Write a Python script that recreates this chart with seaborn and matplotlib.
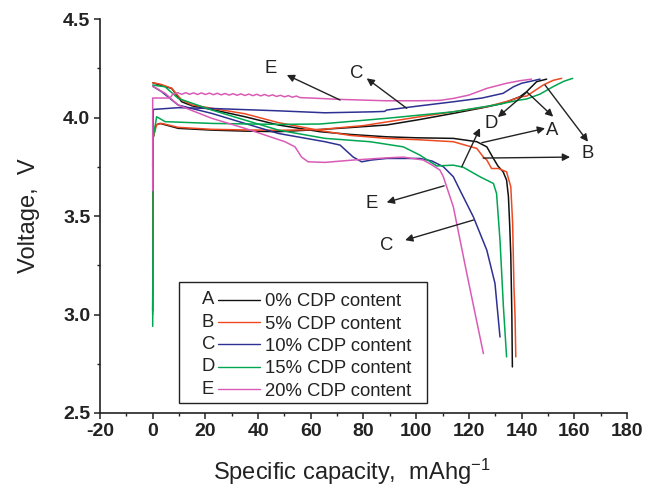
import os
import numpy as np
import pandas as pd
import matplotlib
matplotlib.use("Agg")
import matplotlib.pyplot as plt
import matplotlib.text as mtext
import matplotlib.transforms as mtransforms
from matplotlib.lines import Line2D
from matplotlib.patches import Rectangle
from matplotlib.legend_handler import HandlerBase
from matplotlib.ticker import MultipleLocator
from matplotlib import font_manager
import seaborn as sns

# ---------------- data ----------------
labels = ["A", "B", "C", "D", "E"]
legend_texts = ["0% CDP content", "5% CDP content", "10% CDP content",
                "15% CDP content", "20% CDP content"]
colors = ["#111111", "#EE4A22", "#2E3192", "#00A651", "#DA5BB5"]

# A: 0% CDP
a_chg_x = [0, 0.2, 1.2, 2.8, 9.7, 22.4, 35, 47.7, 63.5, 75, 88.8, 101, 114.1, 125, 133, 139.4, 141.9, 145.7, 149.5]
a_chg_v = [3.02, 3.90, 3.963, 3.971, 3.946, 3.937, 3.932, 3.929, 3.94, 3.95, 3.963, 3.99, 4.022, 4.05, 4.073, 4.107, 4.132, 4.183, 4.196]
a_dis_x = [0, 3, 7.2, 11, 15, 22.4, 35, 47.7, 63.5, 75, 88.8, 100, 114.1, 123, 126.8, 129, 131, 133, 134.3, 135, 135.5, 135.9, 136.3, 136.5]
a_dis_v = [4.178, 4.165, 4.149, 4.081, 4.06, 4.042, 4.005, 3.963, 3.929, 3.915, 3.903, 3.898, 3.895, 3.878, 3.852, 3.80, 3.755, 3.725, 3.683, 3.60, 3.45, 3.30, 3.00, 2.734]

# B: 5% CDP
b_chg_x = [0, 0.2, 1.5, 3.5, 9.7, 22.4, 35, 47.7, 63.5, 80, 101.4, 114, 126.8, 135, 139.4, 141.9, 148.2, 152, 155.2]
b_chg_v = [3.00, 3.90, 3.965, 3.971, 3.951, 3.941, 3.938, 3.936, 3.94, 3.96, 4.005, 4.03, 4.056, 4.085, 4.105, 4.11, 4.166, 4.19, 4.20]
b_dis_x = [0, 3, 7.2, 11, 15, 22.4, 35, 47.7, 63.5, 75, 88.8, 101, 114.1, 123, 125.5, 126.8, 128.6, 131.2, 134.3, 135.9, 136.6, 137.1, 137.5, 137.8]
b_dis_v = [4.178, 4.17, 4.15, 4.09, 4.065, 4.048, 4.02, 3.975, 3.935, 3.91, 3.895, 3.888, 3.878, 3.844, 3.80, 3.785, 3.742, 3.742, 3.725, 3.649, 3.463, 3.14, 3.00, 2.785]

# C: 10% CDP
c_chg_x = [0, 0.2, 9.7, 22.4, 47.7, 65.4, 83.6, 88, 88.8, 100, 114.1, 125, 133, 136.9, 140, 144.4, 147]
c_chg_v = [3.75, 4.042, 4.051, 4.047, 4.035, 4.025, 4.030, 4.032, 4.039, 4.058, 4.081, 4.10, 4.124, 4.157, 4.175, 4.188, 4.196]
c_dis_x = [0, 3.4, 9.7, 22.4, 35, 47.7, 65.4, 71.1, 76.1, 79.3, 83, 88.8, 101.4, 106, 110.3, 114.1, 116.6, 121.7, 126.8, 129.9, 131.8]
c_dis_v = [4.16, 4.132, 4.064, 4.022, 3.971, 3.92, 3.878, 3.861, 3.80, 3.776, 3.785, 3.793, 3.793, 3.78, 3.751, 3.70, 3.632, 3.496, 3.327, 3.158, 2.886]

# D: 15% CDP
d_chg_x = [0, 0.2, 1.5, 4.7, 22.4, 47.7, 63.5, 88.8, 114.1, 130, 139.4, 141.9, 147, 152, 156, 159.4]
d_chg_v = [2.94, 3.90, 4.005, 3.98, 3.971, 3.966, 3.968, 3.997, 4.03, 4.065, 4.09, 4.095, 4.12, 4.158, 4.185, 4.20]
d_dis_x = [0, 4.7, 9.7, 22.4, 35, 47.7, 65.4, 82.5, 95.1, 101.4, 107.8, 114.1, 117.9, 124.2, 129.3, 130.5, 131.8, 133.1, 134.3]
d_dis_v = [4.166, 4.157, 4.098, 4.039, 3.988, 3.937, 3.895, 3.878, 3.852, 3.81, 3.755, 3.759, 3.748, 3.70, 3.666, 3.615, 3.378, 3.039, 2.785]

# E: 20% CDP
e_chg_x = [0, 0, 6.6, 7.6, 9.5, 11, 12.5, 14, 15.5, 17, 18.5, 20, 21.5, 23, 24.5, 26, 27.5, 29, 30.5, 32,
           33.5, 35, 36.5, 38, 39.5, 41, 42.5, 44, 45.5, 47, 48.5, 50, 51.5, 53, 54.5, 56, 60, 71.1, 88.8,
           100, 109, 114.1, 120, 126.8, 134.3, 139.4, 143.8]
e_chg_v = [3.63, 4.10, 4.10, 4.12, 4.127, 4.119, 4.127, 4.119, 4.126, 4.118, 4.126, 4.118, 4.125, 4.117, 4.124, 4.116, 4.123, 4.115, 4.122, 4.114,
           4.121, 4.113, 4.12, 4.112, 4.119, 4.111, 4.118, 4.11, 4.116, 4.108, 4.114, 4.106, 4.112, 4.104, 4.11, 4.102, 4.10, 4.093, 4.086,
           4.086, 4.088, 4.098, 4.115, 4.149, 4.175, 4.188, 4.196]
e_dis_x = [0, 4.7, 9.7, 22.4, 35, 50.2, 54, 56.5, 59, 65.4, 76.1, 88.8, 95.1, 102.7, 106, 109, 110.3, 114.1, 119.2, 125.5]
e_dis_v = [4.16, 4.124, 4.064, 3.997, 3.946, 3.878, 3.852, 3.80, 3.776, 3.773, 3.785, 3.796, 3.80, 3.785, 3.76, 3.734, 3.70, 3.547, 3.209, 2.802]

curves = {
    "A": [(a_chg_x, a_chg_v), (a_dis_x, a_dis_v)],
    "B": [(b_chg_x, b_chg_v), (b_dis_x, b_dis_v)],
    "C": [(c_chg_x, c_chg_v), (c_dis_x, c_dis_v)],
    "D": [(d_chg_x, d_chg_v), (d_dis_x, d_dis_v)],
    "E": [(e_chg_x, e_chg_v), (e_dis_x, e_dis_v)],
}

# annotation labels: (text, label x, label y, [(tail x, tail y, head x, head y), ...])
annotations = [
    ("E", 44.9, 4.252, [(71.1, 4.090, 50.9, 4.217)]),
    ("C", 77.5, 4.227, [(96.4, 4.048, 81.2, 4.200)]),
    ("D", 128.4, 3.973, [(142.0, 4.130, 131.0, 4.003), (117.3, 3.751, 124.2, 3.947)]),
    ("A", 151.5, 3.937, [(141.9, 4.132, 152.0, 4.005), (124.9, 3.873, 148.9, 3.946)]),
    ("B", 165.2, 3.820, [(148.9, 4.166, 165.2, 3.878), (125.4, 3.795, 158.4, 3.800)]),
    ("E", 83.2, 3.566, [(110.6, 3.654, 88.8, 3.570)]),
    ("C", 88.8, 3.350, [(121.7, 3.480, 95.8, 3.378)]),
]

x_ticks = [-20, 0, 20, 40, 60, 80, 100, 120, 140, 160, 180]
y_ticks = [2.5, 3.0, 3.5, 4.0, 4.5]

# ---------------- plot ----------------
sns.set_theme(style="ticks")
plt.rcParams["font.family"] = ["Liberation Sans", "DejaVu Sans"]
plt.rcParams["mathtext.default"] = "regular"
plt.rcParams["axes.unicode_minus"] = False

# find a family that really has a bold face for the tick labels
bold_path = None
for fam in ["Liberation Sans", "Arimo", "Roboto", "Noto Sans", "Open Sans", "Lato", "DejaVu Sans"]:
    try:
        p = font_manager.findfont(font_manager.FontProperties(family=fam, weight="bold"),
                                  fallback_to_default=False)
    except Exception:
        continue
    base = os.path.basename(p).lower()
    if "bold" in base or "-bd" in base or "black" in base:
        bold_path = p
        break
if bold_path is None:
    bold_fp = font_manager.FontProperties(family="DejaVu Sans", weight="bold", size=13)
else:
    bold_fp = font_manager.FontProperties(fname=bold_path, size=14)

INK = "#222222"
fig = plt.figure(figsize=(6.6, 4.92), dpi=100)
ax = fig.add_axes([0.1515, 0.1606, 0.7985, 0.8002])

for lab, col in zip(labels, colors):
    for xs, vs in curves[lab]:
        df = pd.DataFrame({"x": xs, "v": vs})
        sns.lineplot(data=df, x="x", y="v", sort=False, estimator=None,
                     color=col, lw=1.1, ax=ax)

for text, lx, ly, arrows in annotations:
    ax.text(lx, ly, text, fontsize=13.3, ha="center", va="center", color=INK)
    for tx, ty, hx, hy in arrows:
        ax.annotate("", xy=(hx, hy), xytext=(tx, ty),
                    arrowprops=dict(arrowstyle="-|>", color=INK, lw=1.0,
                                    mutation_scale=11, shrinkA=0, shrinkB=0))

ax.set_xlim(-20, 180)
ax.set_ylim(2.5, 4.5)
ax.set_xticks(x_ticks)
ax.set_yticks(y_ticks)
ax.xaxis.set_minor_locator(MultipleLocator(10))
ax.yaxis.set_minor_locator(MultipleLocator(0.25))
ax.tick_params(which="major", direction="out", length=4.3, width=1.1, color=INK,
               labelbottom=False, labelleft=False)
ax.tick_params(which="minor", direction="out", length=2.3, width=1.0, color=INK)
sns.despine(ax=ax)
for sp in ["left", "bottom"]:
    ax.spines[sp].set_linewidth(1.2)
    ax.spines[sp].set_color(INK)

# bold tick labels drawn at the tick values
xtr = mtransforms.blended_transform_factory(ax.transData, ax.transAxes)
ytr = mtransforms.blended_transform_factory(ax.transAxes, ax.transData)
off_x = mtransforms.ScaledTranslation(0, -7.5 / 72, fig.dpi_scale_trans)
off_y = mtransforms.ScaledTranslation(-7.0 / 72, 0, fig.dpi_scale_trans)
for t in x_ticks:
    ax.text(t, 0, f"{t:d}", transform=xtr + off_x, ha="center", va="top",
            fontproperties=bold_fp, color=INK, clip_on=False)
for t in y_ticks:
    ax.text(0, t, f"{t:.1f}", transform=ytr + off_y, ha="right", va="center_baseline",
            fontproperties=bold_fp, color=INK, clip_on=False)

ax.set_xlabel("Specific capacity,  mAhg$^{-1}$", fontsize=17, color=INK)
ax.set_ylabel("Voltage,  V", fontsize=17, color=INK)
ax.xaxis.set_label_coords(0.478, -0.112)
ax.yaxis.set_label_coords(-0.113, 0.5)


class LetterLineHandler(HandlerBase):
    def __init__(self, letter, color):
        super().__init__()
        self.letter = letter
        self.color = color

    def create_artists(self, legend, orig_handle, xdescent, ydescent, width, height, fontsize, trans):
        y = height / 2 - ydescent
        t = mtext.Text(x=-xdescent + fontsize * 1.04, y=y, text=self.letter, fontsize=fontsize,
                       va="center", ha="left", color=INK, transform=trans,
                       family=["Liberation Sans", "DejaVu Sans"])
        x0 = -xdescent + fontsize * 1.92
        ln = Line2D([x0, width - xdescent], [y, y], color=self.color, lw=1.0, transform=trans)
        return [t, ln]


ax.add_patch(Rectangle((0.1505, 0.0246), 0.4695, 0.3081, transform=ax.transAxes,
                       facecolor="white", edgecolor=INK, lw=1.0, zorder=4.5))
handles = [Line2D([], [], color=c) for c in colors]
hmap = {h: LetterLineHandler(l, c) for h, l, c in zip(handles, labels, colors)}
leg = ax.legend(handles, legend_texts, handler_map=hmap, loc="upper left",
                bbox_to_anchor=(0.1564, 0.3043), fontsize=13.3, frameon=False,
                handlelength=4.19, handletextpad=0.27, labelspacing=0.29,
                borderpad=0.0, borderaxespad=0)
leg.set_zorder(5)
for t in leg.get_texts():
    t.set_color(INK)

fig.savefig("out.png", dpi=100)
